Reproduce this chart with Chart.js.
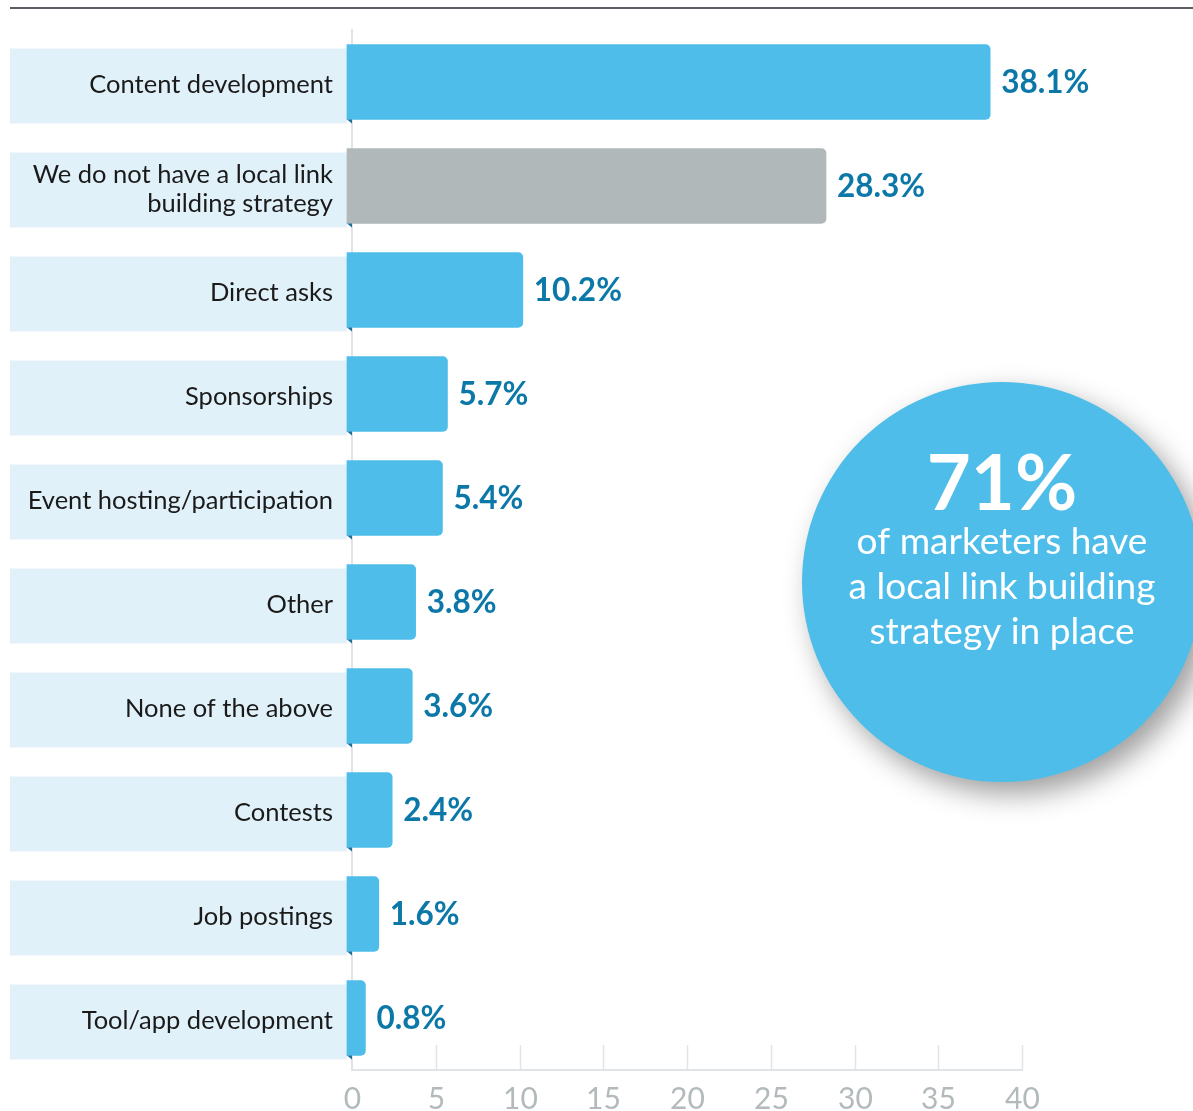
<!DOCTYPE html>
<html>
<head>
<meta charset="utf-8">
<title>Local link building tactics</title>
<script src="https://cdn.jsdelivr.net/npm/chart.js@4.4.1/dist/chart.umd.min.js"></script>
<style>
  html, body { margin: 0; padding: 0; background: #fff; }
  #wrap { position: relative; width: 1193px; height: 1111px; }
</style>
</head>
<body>
<div id="wrap"><canvas id="chartTactics"></canvas></div>
<script>
  var categories = [
    'Content development',
    ['We do not have a local link', 'building strategy'],
    'Direct asks',
    'Sponsorships',
    'Event hosting/participation',
    'Other',
    'None of the above',
    'Contests',
    'Job postings',
    'Tool/app development'
  ];
  var shares = [38.1, 28.3, 10.2, 5.7, 5.4, 3.8, 3.6, 2.4, 1.6, 0.8];
  var xTicks = [0, 5, 10, 15, 20, 25, 30, 35, 40];
  var calloutValue = '71%';
  var calloutLines = ['of marketers have', 'a local link building', 'strategy in place'];

  var BLUE = '#4fbde9', GRAY = '#b1b8ba', BOX = '#e1f1f9', LINE = '#e0e4e6';

  // label boxes, fold corners, short grid ticks, axis numbers, value labels and the callout
  var decorations = {
    id: 'decorations',
    beforeDatasetsDraw: function(chart) {
      var ctx = chart.ctx, area = chart.chartArea, x = chart.scales.x;
      var meta = chart.getDatasetMeta(0);
      ctx.save();
      // top rule
      ctx.fillStyle = '#585e63';
      ctx.fillRect(10, 7, 1183, 2);
      // short grid stubs above the x axis, numbers below it
      ctx.strokeStyle = LINE;
      ctx.lineWidth = 1.5;
      ctx.fillStyle = '#b3babb';
      ctx.font = '30px Lato';
      ctx.textAlign = 'center';
      ctx.textBaseline = 'middle';
      xTicks.forEach(function(t) {
        var px = Math.round(x.getPixelForValue(t)) + 0.5;
        if (t !== 0) {
          ctx.beginPath();
          ctx.moveTo(px, area.bottom - 25);
          ctx.lineTo(px, area.bottom);
          ctx.stroke();
        }
        ctx.fillText(String(t), px, area.bottom + 29);
      });
      // category boxes with right-aligned labels
      ctx.font = '25.5px Lato';
      ctx.textAlign = 'right';
      meta.data.forEach(function(bar, i) {
        var h = bar.height, top = bar.y - h / 2 + 4;
        ctx.fillStyle = BOX;
        ctx.fillRect(10, top, 337, h);
        ctx.fillStyle = '#1a1a1a';
        var lab = categories[i];
        var cy = bar.y + 3;
        if (Array.isArray(lab)) {
          ctx.fillText(lab[0], 333, cy - 14);
          ctx.fillText(lab[1], 333, cy + 15);
        } else {
          ctx.fillText(lab, 333, cy);
        }
      });
      ctx.restore();
    },
    afterDatasetsDraw: function(chart) {
      var ctx = chart.ctx;
      var meta = chart.getDatasetMeta(0);
      ctx.save();
      meta.data.forEach(function(bar, i) {
        var left = bar.base, bottom = bar.y + bar.height / 2;
        // small fold where the bar meets its label box
        ctx.fillStyle = '#1c6f9c';
        ctx.beginPath();
        ctx.moveTo(left, bottom);
        ctx.lineTo(left + 5, bottom);
        ctx.lineTo(left + 5, bottom + 4);
        ctx.closePath();
        ctx.fill();
        // value label
        ctx.fillStyle = '#0b78a8';
        ctx.font = 'bold 31.5px Lato';
        ctx.textAlign = 'left';
        ctx.textBaseline = 'middle';
        ctx.fillText(shares[i].toFixed(1) + '%', bar.x + 11, bar.y + 1);
      });

      // callout circle
      var cx = 1002, cy = 582, r = 200;
      ctx.save();
      ctx.shadowColor = 'rgba(0,0,0,0.38)';
      ctx.shadowBlur = 28;
      ctx.shadowOffsetX = 10;
      ctx.shadowOffsetY = 12;
      ctx.fillStyle = BLUE;
      ctx.beginPath();
      ctx.arc(cx, cy, r, 0, Math.PI * 2);
      ctx.fill();
      ctx.restore();

      ctx.fillStyle = '#ffffff';
      ctx.textAlign = 'center';
      ctx.textBaseline = 'alphabetic';
      ctx.font = 'bold 76px Lato';
      ctx.fillText(calloutValue, cx, 510);
      ctx.font = '37px Lato';
      calloutLines.forEach(function(line, i) {
        ctx.fillText(line, cx, 554 + i * 45);
      });
      ctx.restore();
    }
  };

  new Chart(document.getElementById('chartTactics'), {
    type: 'bar',
    data: {
      labels: categories,
      datasets: [{
        data: shares,
        base: -0.3,
        backgroundColor: shares.map(function(v, i) { return i === 1 ? GRAY : BLUE; }),
        borderRadius: 5,
        barThickness: 75,
        clip: false
      }]
    },
    options: {
      indexAxis: 'y',
      responsive: true,
      maintainAspectRatio: false,
      animation: false,
      layout: { padding: { left: 352, right: 171, top: 30, bottom: 41 } },
      plugins: { legend: { display: false }, tooltip: { enabled: false } },
      scales: {
        x: {
          min: 0,
          max: 40,
          afterBuildTicks: function(scale) {
            scale.ticks = xTicks.map(function(v) { return { value: v }; });
          },
          grid: { display: false, drawTicks: false },
          border: { display: true, color: LINE, width: 2 },
          ticks: { display: false }
        },
        y: {
          grid: { display: false, drawTicks: false },
          border: { display: true, color: LINE, width: 2 },
          ticks: { display: false }
        }
      }
    },
    plugins: [decorations]
  });
</script>
</body>
</html>
